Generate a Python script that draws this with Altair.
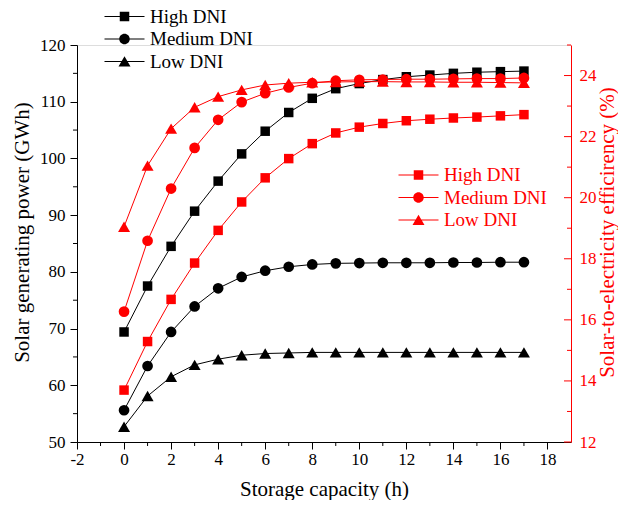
import altair as alt
import pandas as pd

# ---------------- data ----------------
storage_h = list(range(18))
series_names = ["High DNI", "Medium DNI", "Low DNI"]

high_power = [69.4, 77.5, 84.5, 90.7, 96.0, 100.8, 104.8, 108.1, 110.6, 112.3,
              113.2, 113.9, 114.4, 114.7, 115.0, 115.2, 115.3, 115.4]
medium_power = [55.6, 63.4, 69.4, 73.9, 77.1, 79.1, 80.2, 80.9, 81.3, 81.5,
                81.55, 81.6, 81.6, 81.6, 81.65, 81.65, 81.7, 81.7]
low_power = [52.7, 58.1, 61.5, 63.6, 64.6, 65.3, 65.6, 65.7, 65.8, 65.8,
             65.8, 65.8, 65.8, 65.8, 65.8, 65.8, 65.8, 65.8]

high_eff = [13.7, 15.29, 16.67, 17.86, 18.93, 19.86, 20.65, 21.28, 21.77, 22.12,
            22.31, 22.43, 22.52, 22.57, 22.61, 22.64, 22.68, 22.72]
medium_eff = [16.27, 18.59, 20.3, 21.63, 22.55, 23.13, 23.42, 23.61, 23.75, 23.83,
              23.86, 23.87, 23.88, 23.88, 23.89, 23.9, 23.9, 23.92]
low_eff = [19.05, 21.05, 22.26, 22.96, 23.31, 23.53, 23.69, 23.75, 23.78, 23.79,
           23.8, 23.8, 23.79, 23.79, 23.78, 23.78, 23.77, 23.76]

x_ticks = [-2, 0, 2, 4, 6, 8, 10, 12, 14, 16, 18]
x_minor = [-1, 1, 3, 5, 7, 9, 11, 13, 15, 17]
power_ticks = [50, 60, 70, 80, 90, 100, 110, 120]
power_minor = [55, 65, 75, 85, 95, 105, 115]
eff_ticks = [12, 14, 16, 18, 20, 22, 24]
eff_minor = [13, 15, 17, 19, 21, 23, 25]

# ---------------- styling ----------------
FONT = "Liberation Serif, Times New Roman, serif"
W, H = 494, 397
RED = "#ff0000"
TICK_FS = 17
TITLE_FS = 21
LEGEND_FS = 19

shape_of = {"High DNI": "square", "Medium DNI": "circle", "Low DNI": "triangle-up"}
size_of = {"High DNI": 90, "Medium DNI": 115, "Low DNI": 144}
# legend glyphs: a thin bar (the line) plus the marker, all filled
legend_paths = [
    "M-4,-0.1H4V0.1H-4ZM-0.95,-0.95H0.95V0.95H-0.95Z",
    "M-4,-0.1H4V0.1H-4ZM-1.05,0A1.05,1.05,0,1,1,1.05,0A1.05,1.05,0,1,1,-1.05,0Z",
    "M-4,-0.1H4V0.1H-4ZM0,-1.05L1.2,1.0L-1.2,1.0Z",
]

power_df = pd.DataFrame({
    "h": storage_h * 3,
    "series": sum([[s] * len(storage_h) for s in series_names], []),
    "v": high_power + medium_power + low_power,
})
eff_df = pd.DataFrame({
    "h": storage_h * 3,
    "series": sum([[s] * len(storage_h) for s in series_names], []),
    "v": high_eff + medium_eff + low_eff,
})
legend_df = pd.DataFrame({"series": series_names})

x_scale = alt.Scale(domain=[-2, 19], nice=False, zero=False)
power_scale = alt.Scale(domain=[50, 120], nice=False, zero=False)
eff_scale = alt.Scale(domain=[12, 25], nice=False, zero=False)

x_axis = alt.Axis(values=x_ticks, title="Storage capacity (h)", grid=False,
                  tickSize=7, tickColor="black", domainColor="black",
                  labelColor="black", labelFont=FONT, labelFontSize=TICK_FS,
                  labelPadding=2, labelExpr="'' + datum.value",
                  titleFont=FONT, titleFontSize=TITLE_FS, titleFontWeight="normal",
                  titleColor="black", titlePadding=11, labelFlush=False)
power_axis = alt.Axis(values=power_ticks, title="Solar generating power (GWh)",
                      orient="left", grid=False, tickSize=7, tickColor="black",
                      domainColor="black", labelColor="black", labelFont=FONT,
                      labelFontSize=TICK_FS, labelPadding=5,
                      labelExpr="'' + datum.value",
                      titleFont=FONT, titleFontSize=TITLE_FS, titleFontWeight="normal",
                      titleColor="black", titlePadding=7, titleY=187)
eff_axis = alt.Axis(values=eff_ticks, title="Solar-to-electricity efficirency (%)",
                    orient="right", grid=False, ticks=False, tickSize=0,
                    domainColor=RED, labelColor=RED, labelFont=FONT,
                    labelFontSize=TICK_FS, labelPadding=8,
                    labelExpr="'' + datum.value",
                    titleFont=FONT, titleFontSize=TITLE_FS, titleFontWeight="normal",
                    titleColor=RED, titlePadding=0, titleAngle=270,
                    titleBaseline="top", titleY=187)

X = alt.X("h:Q", scale=x_scale, axis=x_axis)


def group(df, color, y_scale, y_axis, legend_x, legend_y):
    Y = alt.Y("v:Q", scale=y_scale, axis=y_axis)
    base = alt.Chart(df)
    lines = base.mark_line(color=color, strokeWidth=1).encode(
        x=X, y=Y, detail="series:N")
    pts = [
        base.transform_filter(alt.datum.series == s)
        .mark_point(shape=shape_of[s], filled=True, color=color,
                    size=size_of[s], opacity=1)
        .encode(x=X, y=Y)
        for s in series_names
    ]
    leg = (
        alt.Chart(legend_df)
        .transform_filter("false")
        .mark_point(filled=True, color=color, size=100, opacity=1)
        .encode(
            x=X,
            y=alt.Y("v:Q", scale=y_scale, axis=y_axis),
            shape=alt.Shape(
                "series:N", title=None,
                scale=alt.Scale(domain=series_names, range=legend_paths),
                legend=alt.Legend(
                    orient="none", legendX=legend_x, legendY=legend_y,
                    labelFont=FONT, labelFontSize=LEGEND_FS, labelColor=color,
                    symbolSize=100, symbolFillColor=color,
                    symbolOffset=0, labelOffset=16, rowPadding=2.5,
                    padding=0),
            ),
        )
    )
    return [lines] + pts + [leg]


# minor / custom ticks
x_minor_ticks = alt.Chart(pd.DataFrame({"h": x_minor})).mark_rule(
    color="black", strokeWidth=1).encode(
    x=X, y=alt.value(H), y2=alt.value(H + 4))

power_minor_ticks = alt.Chart(pd.DataFrame({"v": power_minor})).mark_rule(
    color="black", strokeWidth=1).encode(
    y=alt.Y("v:Q", scale=power_scale, axis=power_axis),
    x=alt.value(0), x2=alt.value(-4))

eff_major_ticks = alt.Chart(pd.DataFrame({"v": eff_ticks})).mark_rule(
    color=RED, strokeWidth=1).encode(
    y=alt.Y("v:Q", scale=eff_scale, axis=eff_axis),
    x=alt.value(W - 7), x2=alt.value(W))

eff_minor_ticks = alt.Chart(pd.DataFrame({"v": eff_minor})).mark_rule(
    color=RED, strokeWidth=1).encode(
    y=alt.Y("v:Q", scale=eff_scale, axis=eff_axis),
    x=alt.value(W - 4), x2=alt.value(W))

left_group = alt.layer(
    power_minor_ticks, x_minor_ticks,
    *group(power_df, "black", power_scale, power_axis, 38, -38))
right_group = alt.layer(
    eff_major_ticks, eff_minor_ticks,
    *group(eff_df, RED, eff_scale, eff_axis, 332, 120.5))

chart = (
    alt.layer(left_group, right_group)
    .resolve_scale(y="independent", shape="independent")
    .resolve_legend(shape="independent")
    .properties(width=W, height=H,
                padding={"left": 69, "top": 37, "right": 47, "bottom": 58},
                autosize=alt.AutoSizeParams(type="none"))
    .configure_view(stroke=None)
    .configure(font=FONT, background="white")
)

chart.save("out.html", embed_options={"renderer": "svg", "actions": False})
